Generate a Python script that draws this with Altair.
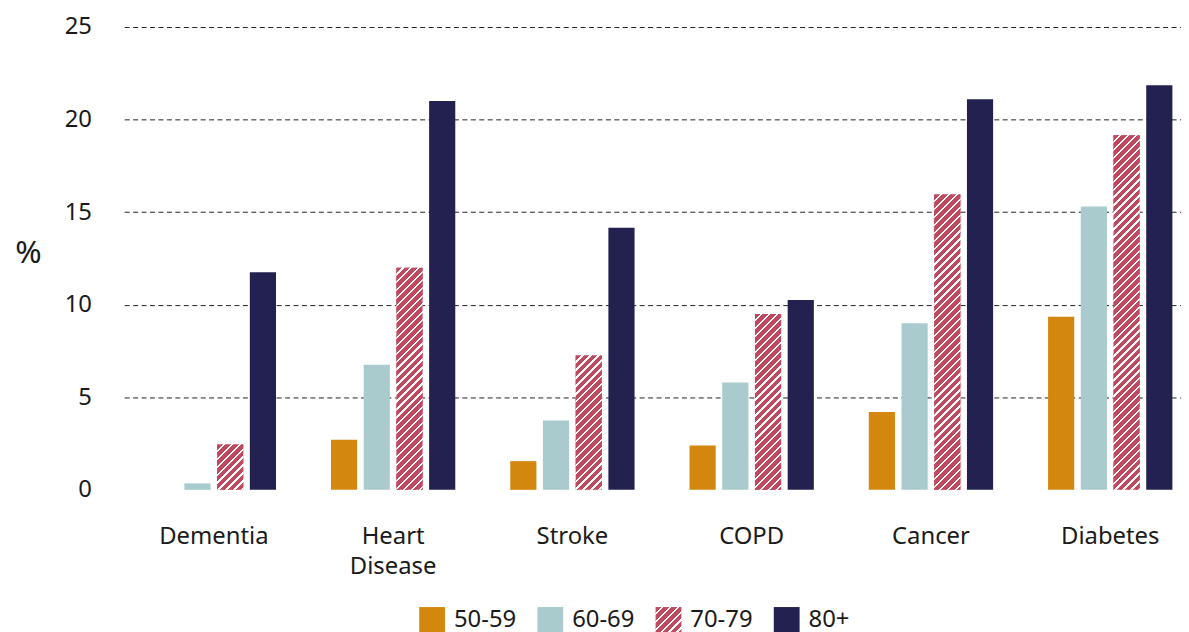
import json
import altair as alt
import pandas as pd

# ---- data ----
categories = ["Dementia", "Heart Disease", "Stroke", "COPD", "Cancer", "Diabetes"]
ages = ["50-59", "60-69", "70-79", "80+"]
v_50_59 = [0.0, 2.7, 1.55, 2.4, 4.2, 9.35]
v_60_69 = [0.35, 6.75, 3.75, 5.8, 9.0, 15.3]
v_70_79 = [2.45, 12.0, 7.25, 9.5, 15.95, 19.15]
v_80p = [11.75, 21.0, 14.15, 10.25, 21.1, 21.85]
y_ticks = [0, 5, 10, 15, 20, 25]

# ---- styling ----
COLORS = ["#D4870F", "#A9CBCE", "#C0485F", "#232150"]
HATCH_RED = "#C0485F"
HATCH_WHITE = "#FFFFFF"
FONT = "Noto Sans"
TEXT = "#1a1a1a"

W, H = 1067, 466
Y_MAX = 25
X_RANGE = [3, 1086]
OFF_PI, OFF_PO = 0.2, 0.84

rows = []
for i, c in enumerate(categories):
    for a, vals in zip(ages, [v_50_59, v_60_69, v_70_79, v_80p]):
        rows.append({"cat": c, "age": a, "value": vals[i]})
df = pd.DataFrame(rows)


def hatch(w, h, period=8.0, white=2.4):
    """Diagonal '/' stripes for a w x h box via a bounding-box linear gradient."""
    L = w + h
    stops = []
    pos = 0.0
    while pos < L - 1e-9:
        r_end = min(pos + period - white, L)
        stops.append({"offset": round(pos / L, 5), "color": HATCH_RED})
        stops.append({"offset": round(r_end / L, 5), "color": HATCH_RED})
        if r_end < L:
            w_end = min(pos + period, L)
            stops.append({"offset": round(r_end / L, 5), "color": HATCH_WHITE})
            stops.append({"offset": round(w_end / L, 5), "color": HATCH_WHITE})
        pos += period
    d = w * w + h * h
    return {"gradient": "linear", "x1": 0, "y1": 0,
            "x2": round(w * L / d, 5), "y2": round(h * L / d, 5), "stops": stops}


# bar pixel geometry (for hatch angle only)
step = (X_RANGE[1] - X_RANGE[0]) / len(categories)
off_step = step / (len(ages) - OFF_PI + 2 * OFF_PO)
bar_w = off_step * (1 - OFF_PI)
px_per_unit = H / Y_MAX

legend_grad = hatch(26, 26)

x_enc = alt.X(
    "cat:N",
    scale=alt.Scale(domain=categories, range=X_RANGE, paddingInner=0, paddingOuter=0),
    axis=alt.Axis(title=None, labelAngle=0, domain=False, ticks=False,
                  labelFontSize=24, labelPadding=35, labelFont=FONT, labelColor=TEXT,
                  labelExpr="split(datum.label, ' ')", labelLineHeight=30),
)
xo_enc = alt.XOffset("age:N", scale=alt.Scale(domain=ages, paddingInner=OFF_PI, paddingOuter=OFF_PO))
y_enc = alt.Y(
    "value:Q",
    scale=alt.Scale(domain=[0, Y_MAX], nice=False),
    axis=alt.Axis(values=y_ticks, title="%", titleAngle=0, titleX=-94, titleY=227,
                  titleAlign="center", titleBaseline="middle", titleFontSize=32,
                  titleFontWeight="normal", titleFont=FONT, titleColor=TEXT,
                  domain=False, ticks=False, labelPadding=30, labelFontSize=24,
                  labelFont=FONT, labelColor=TEXT,
                  gridDash=[5, 3.5], gridColor="#222222", gridWidth=1,
                  gridOpacity={"condition": {"test": "datum.value === 0", "value": 0}, "value": 1}),
)

base = alt.Chart(df).mark_bar(strokeWidth=0).encode(
    x=x_enc, xOffset=xo_enc, y=y_enc,
    color=alt.Color(
        "age:N",
        scale=alt.Scale(domain=ages,
                        range=[COLORS[0], COLORS[1], {"expr": json.dumps(legend_grad)}, COLORS[3]]),
        legend=alt.Legend(orient="none", legendX=300, legendY=584, direction="horizontal",
                          title=None, symbolType="square", symbolSize=676, symbolStrokeWidth=0,
                          symbolOpacity=1, labelFontSize=24, labelOffset=9, columnPadding=21,
                          padding=0, labelFont=FONT, labelColor=TEXT),
    ),
)

overlays = []
for i, c in enumerate(categories):
    h = v_70_79[i] * px_per_unit
    overlays.append(
        alt.Chart(df)
        .transform_filter(f"datum.cat === '{c}' && datum.age === '70-79'")
        .mark_bar(fill=hatch(bar_w, h), strokeWidth=0)
        .encode(x=x_enc, xOffset=xo_enc, y=y_enc)
    )

chart = (
    alt.layer(base, *overlays)
    .properties(width=W, height=H,
                autosize=alt.AutoSizeParams(type="none"),
                padding={"left": 114, "top": 17, "right": 0, "bottom": 141})
    .configure_view(stroke=None)
)

chart.save("out.html", embed_options={"renderer": "svg", "actions": False})
